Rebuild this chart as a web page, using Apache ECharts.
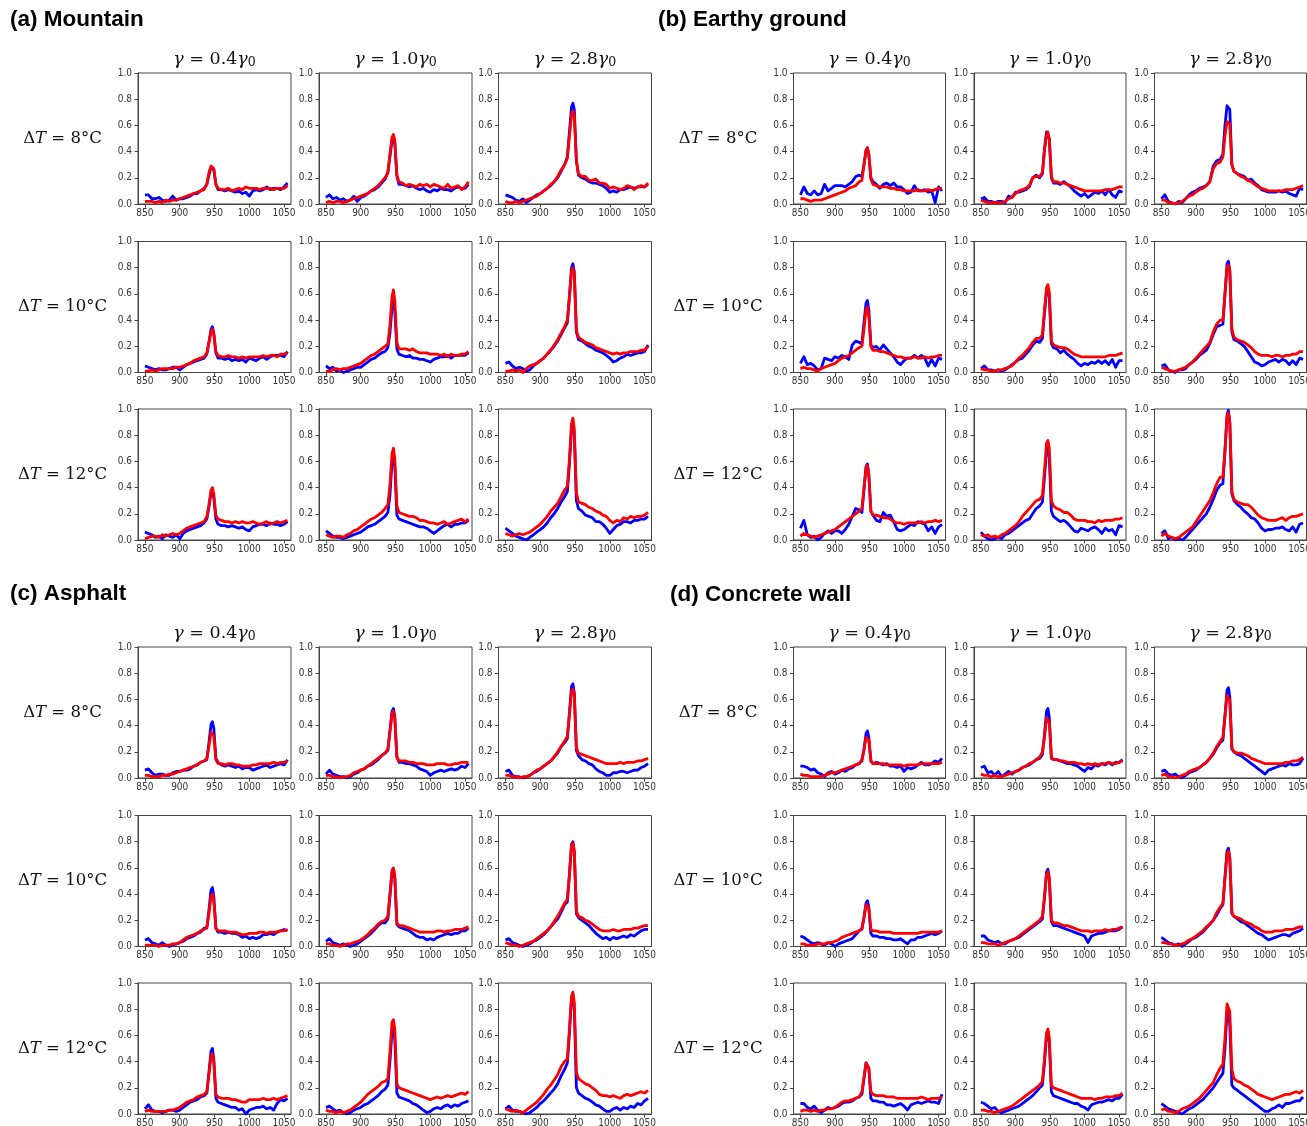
<!DOCTYPE html>
<html>
<head>
<meta charset="utf-8">
<script src="https://cdn.jsdelivr.net/npm/echarts@6/dist/echarts.min.js"></script>
<style>
html,body{margin:0;padding:0;background:#fff;}
#chart{width:1307px;height:1126px;}
</style>
</head>
<body>
<div id="chart"></div>
<script>
// ---------------- DATA ----------------
const wavelengths = [850,855,860,865,870,875,880,885,890,895, 900,905,910,915,920,925,930,935, 939,942,945,947,949,952,955, 960,965,970,975,980,985,990,995,1000,1005, 1010,1015,1020,1025,1030,1035,1040,1045,1050,1055];
const xTickValues = [850, 900, 950, 1000, 1050];
const panelTitles = ['(a) Mountain', '(b) Earthy ground', '(c) Asphalt', '(d) Concrete wall'];
const gammaLabels = ['0.4', '1.0', '2.8'];
const deltaTLabels = ['8', '10', '12'];

// (a) Mountain
const mountain_8_04_blue  = [.07,.07,.04,.04,.05,.03,.02,.03,.06,.03, .04,.04,.05,.06,.08,.08,.10,.12, .15,.22,.28,.29,.26,.15,.11, .11,.10,.11,.10,.09,.10,.08,.09,.06,.10, .11,.10,.11,.13,.11,.12,.12,.11,.13,.16];
const mountain_8_04_red   = [.02,.02,.02,.01,.02,.01,.03,.02,.03,.03, .04,.05,.06,.07,.08,.09,.10,.11, .15,.24,.29,.30,.27,.15,.12, .11,.11,.12,.10,.11,.12,.11,.13,.12,.12, .12,.11,.12,.12,.12,.11,.12,.12,.12,.14];
const mountain_8_10_blue  = [.05,.07,.04,.05,.03,.04,.02,.03,.06,.02, .05,.06,.08,.10,.11,.13,.16,.19, .24,.36,.49,.50,.46,.21,.15, .15,.14,.13,.14,.12,.11,.12,.10,.09,.11, .10,.12,.11,.11,.10,.12,.13,.12,.12,.15];
const mountain_8_10_red   = [.01,.02,.01,.02,.02,.01,.02,.03,.04,.05, .06,.07,.08,.10,.12,.14,.17,.20, .24,.38,.51,.53,.49,.22,.17, .16,.14,.15,.14,.13,.15,.14,.15,.13,.15, .14,.13,.12,.15,.12,.13,.14,.11,.13,.17];
const mountain_8_28_blue  = [.07,.06,.05,.03,.02,.04,.01,.03,.05,.07, .08,.10,.12,.14,.17,.20,.25,.30, .36,.55,.74,.77,.72,.33,.22, .20,.19,.17,.16,.16,.15,.14,.12,.09,.10, .09,.11,.11,.12,.13,.12,.13,.13,.13,.15];
const mountain_8_28_red   = [.02,.01,.01,.02,.01,.02,.03,.04,.05,.06, .08,.10,.12,.15,.17,.21,.26,.30, .35,.52,.68,.71,.67,.33,.23, .21,.21,.18,.18,.19,.16,.16,.15,.12,.13, .12,.11,.12,.14,.13,.11,.13,.14,.13,.16];
const mountain_10_04_blue = [.05,.04,.03,.02,.03,.02,.02,.03,.04,.04, .02,.04,.06,.07,.08,.09,.10,.11, .14,.23,.33,.35,.30,.15,.11, .11,.10,.11,.09,.10,.09,.10,.08,.11,.10, .09,.11,.12,.10,.12,.13,.13,.13,.12,.16];
const mountain_10_04_red  = [.01,.01,.02,.01,.02,.03,.03,.03,.03,.04, .04,.05,.06,.07,.09,.10,.11,.12, .15,.23,.31,.33,.29,.16,.13, .12,.12,.13,.12,.12,.11,.12,.11,.12,.12, .12,.12,.13,.12,.13,.13,.12,.14,.14,.15];
const mountain_10_10_blue = [.05,.03,.04,.01,.02,.00,.01,.02,.03,.04, .04,.06,.08,.10,.11,.13,.15,.16, .19,.30,.50,.55,.47,.18,.14, .13,.12,.13,.11,.11,.10,.10,.09,.08,.10, .11,.12,.12,.13,.11,.13,.13,.13,.13,.15];
const mountain_10_10_red  = [.01,.01,.02,.03,.02,.03,.03,.04,.05,.06, .07,.09,.11,.13,.14,.16,.18,.20, .22,.36,.58,.63,.55,.23,.18, .18,.18,.17,.18,.16,.15,.15,.15,.14,.14, .14,.13,.14,.12,.14,.13,.13,.14,.14,.16];
const mountain_10_28_blue = [.07,.08,.05,.03,.04,.03,.01,.02,.05,.07, .09,.11,.14,.17,.20,.24,.29,.34, .38,.58,.80,.83,.77,.31,.25, .24,.22,.20,.19,.17,.16,.15,.13,.11,.08, .09,.11,.12,.14,.13,.14,.15,.15,.16,.21];
const mountain_10_28_red  = [.01,.01,.02,.01,.02,.00,.03,.05,.06,.07, .09,.11,.14,.17,.21,.25,.30,.35, .40,.58,.77,.80,.75,.32,.27, .25,.23,.22,.21,.19,.18,.17,.16,.15,.14, .15,.14,.15,.15,.16,.16,.16,.17,.17,.20];
const mountain_12_04_blue = [.06,.05,.04,.02,.03,.01,.04,.03,.02,.04, .01,.05,.07,.08,.09,.10,.11,.13, .16,.25,.36,.38,.32,.16,.12, .11,.11,.10,.11,.10,.09,.10,.08,.07,.10, .11,.12,.12,.11,.13,.12,.12,.11,.12,.14];
const mountain_12_04_red  = [.01,.02,.03,.03,.02,.04,.03,.04,.05,.04, .05,.07,.09,.10,.11,.12,.13,.14, .18,.27,.38,.40,.35,.19,.16, .15,.14,.14,.13,.14,.13,.14,.13,.13,.14, .13,.12,.13,.14,.12,.13,.14,.13,.14,.15];
const mountain_12_10_blue = [.07,.05,.03,.02,.02,.01,.02,.03,.04,.05, .06,.08,.10,.11,.12,.14,.16,.18, .21,.34,.60,.65,.56,.19,.16, .15,.14,.13,.12,.11,.10,.10,.09,.07,.05, .07,.09,.11,.12,.10,.12,.12,.13,.13,.15];
const mountain_12_10_red  = [.04,.03,.02,.03,.03,.02,.04,.05,.07,.08, .10,.12,.14,.16,.17,.19,.21,.24, .27,.42,.66,.70,.62,.26,.21, .20,.19,.18,.18,.17,.15,.15,.14,.13,.13, .12,.13,.14,.12,.13,.14,.15,.16,.14,.16];
const mountain_12_28_blue = [.09,.07,.05,.03,.02,.01,.00,.02,.04,.06, .08,.10,.13,.17,.20,.24,.29,.33, .37,.58,.85,.89,.80,.30,.24, .22,.19,.18,.17,.14,.14,.12,.09,.05,.08, .11,.12,.14,.14,.13,.15,.15,.16,.16,.18];
const mountain_12_28_red  = [.05,.04,.03,.04,.05,.04,.05,.06,.08,.10, .12,.15,.18,.22,.25,.28,.33,.38, .41,.62,.89,.93,.85,.36,.29, .28,.27,.25,.24,.22,.21,.19,.18,.15,.13, .15,.14,.17,.16,.18,.17,.18,.18,.19,.21];

// (b) Earthy ground
const earthy_8_04_blue  = [.07,.13,.08,.07,.10,.07,.08,.15,.10,.12, .14,.14,.14,.13,.15,.17,.21,.22, .21,.30,.41,.43,.38,.20,.17, .15,.12,.15,.16,.14,.16,.13,.13,.11,.08, .09,.14,.10,.10,.11,.09,.10,.01,.13,.10];
const earthy_8_04_red   = [.04,.04,.03,.02,.03,.03,.03,.04,.05,.06, .07,.08,.09,.10,.12,.13,.14,.17, .18,.30,.41,.43,.38,.19,.15, .14,.13,.13,.13,.12,.12,.11,.11,.10,.10, .10,.10,.11,.10,.10,.11,.10,.11,.12,.12];
const earthy_8_10_blue  = [.04,.05,.02,.02,.01,.02,.02,.01,.06,.05, .09,.09,.10,.11,.13,.20,.22,.20, .23,.42,.55,.56,.50,.20,.16, .16,.15,.17,.15,.13,.10,.08,.06,.08,.05, .07,.09,.08,.10,.07,.11,.07,.05,.10,.09];
const earthy_8_10_red   = [.03,.02,.01,.01,.01,.01,.01,.02,.04,.05, .08,.10,.11,.12,.14,.20,.21,.21, .24,.41,.53,.55,.49,.21,.17, .17,.16,.16,.15,.14,.13,.12,.11,.10,.10, .10,.10,.10,.10,.11,.11,.11,.12,.13,.13];
const earthy_8_28_blue  = [.04,.07,.02,.01,.00,.02,.01,.04,.07,.09, .10,.12,.13,.14,.17,.29,.33,.34, .38,.60,.75,.76,.72,.30,.25, .23,.22,.21,.18,.19,.16,.14,.11,.10,.09, .09,.09,.10,.09,.10,.08,.07,.06,.12,.11];
const earthy_8_28_red   = [.03,.03,.01,.01,.00,.01,.02,.04,.06,.07, .09,.11,.12,.14,.17,.27,.31,.32, .36,.52,.63,.64,.61,.30,.25, .23,.21,.20,.18,.17,.15,.13,.12,.11,.10, .10,.10,.10,.10,.11,.11,.11,.12,.13,.14];
const earthy_10_04_blue = [.07,.12,.06,.07,.05,.02,.03,.11,.10,.09, .12,.11,.13,.12,.10,.21,.24,.23, .22,.38,.53,.55,.48,.21,.19, .20,.17,.21,.18,.15,.12,.08,.06,.09,.11, .11,.13,.11,.13,.11,.05,.10,.05,.11,.10];
const earthy_10_04_red  = [.03,.04,.03,.03,.02,.01,.03,.04,.05,.06, .07,.09,.11,.12,.13,.15,.17,.19, .20,.33,.48,.50,.43,.20,.17, .17,.16,.16,.15,.14,.13,.12,.12,.11,.11, .11,.12,.11,.11,.12,.11,.12,.12,.13,.13];
const earthy_10_10_blue = [.03,.05,.02,.02,.01,.02,.01,.02,.04,.06, .08,.10,.11,.14,.17,.21,.24,.23, .26,.45,.62,.64,.58,.22,.19, .18,.15,.17,.14,.12,.10,.07,.05,.07,.06, .08,.07,.09,.07,.09,.06,.10,.04,.09,.09];
const earthy_10_10_red  = [.03,.02,.02,.01,.01,.02,.02,.03,.04,.05, .08,.11,.13,.16,.19,.23,.26,.26, .29,.48,.65,.67,.61,.24,.21, .20,.19,.19,.18,.16,.14,.13,.12,.12,.12, .12,.12,.12,.12,.12,.13,.13,.13,.14,.15];
const earthy_10_28_blue = [.05,.06,.02,.01,.00,.02,.02,.03,.06,.08, .10,.13,.15,.17,.22,.29,.35,.36, .37,.60,.83,.85,.78,.31,.25, .24,.22,.20,.16,.12,.08,.07,.05,.06,.08, .09,.10,.08,.10,.09,.06,.09,.06,.11,.10];
const earthy_10_28_red  = [.04,.03,.02,.01,.01,.02,.03,.04,.06,.08, .11,.14,.17,.20,.23,.31,.37,.40, .40,.60,.80,.82,.77,.33,.27, .25,.24,.23,.21,.19,.16,.14,.13,.13,.13, .12,.13,.13,.12,.13,.13,.14,.14,.16,.16];
const earthy_12_04_blue = [.09,.15,.04,.02,.03,.00,.02,.05,.07,.05, .07,.07,.05,.08,.12,.18,.24,.23, .21,.38,.56,.58,.50,.22,.19, .15,.14,.21,.18,.19,.14,.08,.07,.08,.10, .12,.11,.14,.13,.12,.07,.10,.05,.10,.12];
const earthy_12_04_red  = [.03,.05,.04,.03,.02,.03,.04,.05,.06,.07, .08,.10,.12,.14,.16,.18,.20,.22, .24,.40,.55,.57,.50,.22,.19, .19,.18,.17,.17,.16,.14,.13,.13,.12,.13, .13,.13,.13,.14,.13,.14,.14,.15,.14,.15];
const earthy_12_10_blue = [.06,.03,.01,.00,.01,.02,.01,.04,.05,.07, .09,.11,.13,.15,.16,.20,.24,.26, .29,.48,.68,.71,.63,.22,.18, .16,.14,.15,.13,.10,.07,.06,.09,.08,.07, .09,.10,.08,.05,.09,.07,.08,.04,.11,.10];
const earthy_12_10_red  = [.04,.03,.04,.02,.03,.02,.04,.05,.07,.09, .11,.14,.18,.21,.24,.27,.30,.31, .34,.53,.74,.76,.70,.30,.26, .24,.23,.21,.21,.19,.16,.15,.15,.15,.14, .14,.13,.15,.14,.15,.15,.15,.16,.16,.17];
const earthy_12_28_blue = [.05,.07,.01,.02,.00,.01,.00,.02,.05,.08, .11,.14,.17,.20,.25,.31,.38,.42, .43,.68,.96,.99,.90,.35,.30, .27,.25,.22,.20,.17,.16,.13,.09,.07,.08, .08,.09,.09,.10,.08,.07,.10,.06,.12,.13];
const earthy_12_28_red  = [.03,.05,.03,.02,.01,.02,.04,.06,.08,.10, .14,.18,.22,.26,.30,.36,.43,.48, .48,.68,.94,.97,.90,.37,.31, .29,.28,.27,.27,.25,.22,.19,.17,.16,.15, .15,.15,.16,.17,.15,.17,.18,.18,.19,.20];

// (c) Asphalt
const asphalt_8_04_blue  = [.06,.07,.04,.02,.03,.03,.02,.02,.04,.05, .05,.06,.06,.07,.09,.10,.12,.13, .14,.27,.41,.43,.38,.15,.12, .10,.09,.10,.09,.08,.09,.07,.08,.08,.06, .07,.08,.09,.10,.08,.09,.10,.11,.10,.14];
const asphalt_8_04_red   = [.02,.02,.01,.01,.01,.02,.02,.03,.03,.04, .05,.06,.07,.08,.09,.10,.12,.13, .15,.24,.35,.36,.32,.14,.11, .11,.10,.11,.11,.10,.10,.09,.09,.09,.10, .10,.11,.11,.11,.11,.12,.11,.12,.12,.13];
const asphalt_8_10_blue  = [.03,.06,.03,.02,.01,.01,.00,.01,.03,.04, .06,.07,.09,.10,.12,.14,.17,.19, .21,.36,.51,.53,.47,.16,.12, .12,.11,.11,.10,.09,.07,.06,.05,.02,.04, .05,.06,.05,.06,.07,.06,.07,.09,.08,.11];
const asphalt_8_10_red   = [.02,.02,.01,.01,.00,.01,.01,.02,.04,.05, .06,.07,.09,.11,.13,.15,.17,.19, .22,.35,.49,.51,.45,.16,.13, .13,.13,.12,.12,.11,.11,.11,.10,.10,.10, .11,.11,.11,.10,.10,.11,.11,.12,.12,.12];
const asphalt_8_28_blue  = [.05,.06,.02,.01,.01,.00,.01,.02,.04,.05, .07,.09,.11,.13,.16,.19,.24,.27, .30,.50,.70,.72,.65,.21,.17, .14,.13,.11,.10,.07,.05,.04,.02,.02,.04, .04,.05,.05,.04,.05,.06,.06,.08,.09,.11];
const asphalt_8_28_red   = [.02,.02,.01,.01,.00,.01,.01,.02,.04,.06, .07,.09,.11,.13,.16,.20,.24,.28, .32,.48,.66,.68,.63,.23,.19, .18,.17,.16,.15,.14,.13,.12,.11,.11,.11, .11,.12,.11,.12,.12,.12,.13,.13,.14,.15];
const asphalt_10_04_blue = [.05,.06,.03,.02,.01,.03,.01,.00,.01,.02, .03,.04,.06,.07,.08,.10,.11,.14, .14,.28,.43,.45,.38,.14,.11, .11,.10,.11,.10,.10,.09,.07,.08,.06,.07, .06,.07,.09,.09,.10,.09,.11,.12,.13,.12];
const asphalt_10_04_red  = [.01,.01,.01,.01,.00,.01,.01,.01,.02,.02, .03,.05,.07,.08,.09,.10,.12,.13, .15,.25,.38,.40,.35,.14,.12, .12,.12,.11,.11,.11,.10,.09,.09,.10,.10, .10,.11,.11,.10,.11,.11,.11,.12,.12,.13];
const asphalt_10_10_blue = [.04,.06,.03,.02,.01,.02,.01,.00,.01,.02, .04,.06,.08,.10,.13,.16,.18,.18, .21,.38,.57,.59,.52,.17,.15, .14,.13,.12,.10,.08,.07,.07,.05,.06,.05, .07,.08,.09,.10,.09,.10,.10,.12,.12,.14];
const asphalt_10_10_red  = [.02,.02,.01,.01,.00,.01,.02,.02,.03,.04, .05,.07,.09,.12,.14,.17,.19,.20, .23,.40,.58,.60,.54,.18,.16, .16,.15,.14,.13,.12,.11,.11,.11,.11,.11, .12,.12,.11,.12,.12,.13,.13,.13,.14,.15];
const asphalt_10_28_blue = [.05,.06,.03,.02,.01,.00,.01,.02,.04,.05, .07,.09,.12,.15,.18,.21,.26,.32, .34,.55,.78,.80,.72,.25,.22, .20,.18,.16,.13,.10,.08,.06,.07,.05,.07, .06,.07,.08,.07,.09,.08,.10,.12,.13,.13];
const asphalt_10_28_red  = [.03,.02,.01,.01,.00,.01,.02,.03,.04,.06, .08,.10,.12,.15,.19,.23,.28,.33, .36,.55,.77,.79,.73,.27,.23, .22,.20,.19,.17,.15,.13,.12,.12,.12,.13, .12,.12,.13,.13,.13,.14,.14,.15,.16,.16];
const asphalt_12_04_blue = [.04,.07,.03,.02,.02,.01,.02,.03,.03,.02, .03,.05,.07,.09,.10,.11,.13,.14, .16,.32,.48,.50,.42,.12,.09, .08,.07,.06,.05,.05,.03,.04,.00,.03,.04, .05,.05,.06,.04,.05,.03,.08,.11,.10,.12];
const asphalt_12_04_red  = [.02,.03,.02,.02,.02,.02,.02,.03,.03,.04, .05,.07,.09,.10,.11,.13,.14,.15, .17,.30,.44,.46,.40,.15,.13, .12,.12,.12,.11,.11,.10,.09,.09,.11,.11, .11,.11,.12,.11,.11,.12,.11,.12,.13,.14];
const asphalt_12_10_blue = [.05,.06,.04,.02,.03,.01,.00,.01,.03,.04, .05,.07,.08,.10,.12,.14,.17,.19, .22,.40,.63,.66,.57,.16,.13, .12,.11,.10,.08,.07,.05,.03,.01,.02,.04, .05,.04,.06,.07,.05,.07,.06,.08,.09,.10];
const asphalt_12_10_red  = [.03,.02,.02,.01,.02,.01,.02,.03,.05,.07, .09,.12,.15,.17,.19,.21,.24,.25, .27,.47,.70,.72,.65,.23,.20, .19,.18,.17,.16,.15,.14,.13,.12,.11,.12, .13,.12,.13,.14,.13,.14,.15,.16,.15,.17];
const asphalt_12_28_blue = [.04,.06,.03,.02,.02,.01,.00,.01,.03,.05, .08,.10,.13,.16,.19,.23,.29,.34, .39,.62,.88,.91,.80,.20,.16, .14,.12,.11,.09,.07,.06,.04,.02,.02,.04, .05,.03,.05,.04,.06,.05,.08,.07,.10,.12];
const asphalt_12_28_red  = [.04,.03,.02,.03,.02,.01,.03,.05,.07,.09, .12,.15,.19,.22,.26,.30,.36,.40, .42,.65,.90,.93,.85,.32,.27, .25,.23,.22,.20,.18,.15,.14,.14,.13,.14, .13,.12,.14,.15,.14,.15,.16,.17,.16,.18];

// (d) Concrete wall
const concrete_8_04_blue  = [.09,.09,.08,.06,.07,.04,.03,.01,.04,.05, .03,.04,.06,.05,.07,.08,.10,.11, .13,.22,.34,.36,.31,.13,.11, .12,.11,.10,.11,.09,.09,.08,.09,.05,.08, .07,.08,.10,.12,.10,.10,.11,.13,.12,.15];
const concrete_8_04_red   = [.03,.02,.02,.01,.01,.01,.01,.02,.03,.04, .04,.05,.06,.07,.08,.09,.10,.11, .14,.21,.31,.32,.29,.13,.11, .11,.11,.11,.10,.10,.10,.10,.10,.09,.10, .10,.10,.10,.11,.11,.11,.11,.11,.11,.12];
const concrete_8_10_blue  = [.08,.09,.04,.05,.02,.05,.01,.03,.05,.03, .05,.06,.08,.09,.10,.12,.14,.15, .18,.33,.51,.53,.46,.15,.14, .14,.13,.12,.11,.11,.10,.09,.07,.05,.08, .07,.10,.09,.11,.10,.12,.10,.12,.12,.14];
const concrete_8_10_red   = [.03,.02,.02,.01,.02,.01,.01,.02,.03,.04, .05,.06,.08,.09,.11,.12,.14,.16, .20,.31,.46,.47,.42,.16,.14, .14,.13,.13,.12,.12,.12,.11,.11,.10,.11, .10,.11,.10,.11,.11,.12,.11,.11,.12,.13];
const concrete_8_28_blue  = [.05,.06,.03,.02,.03,.01,.00,.02,.04,.05, .06,.08,.10,.12,.15,.18,.23,.27, .29,.48,.67,.69,.62,.22,.20, .18,.17,.15,.13,.11,.09,.07,.05,.03,.06, .07,.08,.09,.10,.09,.11,.10,.10,.11,.15];
const concrete_8_28_red   = [.02,.03,.01,.01,.00,.01,.02,.03,.05,.06, .07,.08,.10,.12,.15,.19,.24,.28, .31,.47,.63,.64,.59,.23,.20, .19,.19,.18,.17,.15,.14,.13,.12,.11,.11, .11,.11,.11,.11,.12,.12,.13,.13,.14,.16];
const concrete_10_04_blue = [.08,.07,.05,.03,.02,.03,.02,.01,.03,.02, .00,.02,.03,.04,.05,.06,.09,.12, .13,.22,.33,.35,.30,.10,.08, .08,.07,.07,.06,.06,.05,.05,.06,.04,.02, .05,.05,.07,.07,.08,.09,.10,.09,.10,.12];
const concrete_10_04_red  = [.02,.02,.01,.01,.01,.02,.02,.02,.03,.03, .04,.05,.07,.08,.09,.10,.11,.12, .14,.22,.32,.33,.29,.13,.12, .12,.11,.11,.11,.11,.10,.10,.10,.10,.10, .10,.10,.10,.11,.11,.11,.11,.11,.11,.12];
const concrete_10_10_blue = [.08,.08,.05,.04,.03,.04,.02,.02,.04,.05, .06,.07,.09,.11,.13,.15,.17,.19, .21,.37,.57,.59,.52,.19,.16, .16,.15,.14,.13,.12,.11,.10,.09,.08,.03, .08,.09,.10,.10,.11,.12,.12,.12,.13,.15];
const concrete_10_10_red  = [.03,.03,.02,.02,.02,.01,.02,.03,.04,.05, .06,.08,.10,.12,.14,.16,.18,.20, .23,.38,.55,.57,.51,.20,.18, .18,.17,.16,.16,.15,.14,.13,.12,.12,.12, .11,.12,.12,.12,.13,.12,.13,.13,.14,.15];
const concrete_10_28_blue = [.07,.05,.03,.02,.01,.02,.00,.02,.04,.06, .07,.09,.11,.14,.17,.20,.24,.29, .32,.53,.73,.75,.68,.25,.23, .21,.19,.18,.16,.14,.12,.10,.09,.07,.05, .06,.07,.08,.09,.09,.08,.10,.11,.12,.14];
const concrete_10_28_red  = [.03,.03,.02,.02,.01,.01,.02,.03,.05,.06, .08,.10,.12,.15,.17,.20,.26,.30, .33,.52,.71,.73,.67,.26,.23, .22,.21,.19,.18,.17,.15,.14,.12,.11,.11, .11,.12,.12,.12,.13,.13,.13,.14,.15,.15];
const concrete_12_04_blue = [.08,.08,.05,.04,.06,.03,.01,.03,.05,.04, .05,.06,.08,.09,.09,.10,.12,.13, .15,.27,.39,.40,.35,.12,.10, .10,.09,.09,.07,.07,.06,.07,.08,.06,.03, .07,.08,.09,.08,.09,.10,.09,.09,.08,.15];
const concrete_12_04_red  = [.02,.03,.03,.02,.03,.02,.03,.03,.04,.04, .05,.07,.09,.10,.10,.11,.12,.13, .17,.28,.39,.40,.35,.17,.15, .14,.14,.14,.13,.13,.13,.12,.12,.12,.12, .12,.12,.12,.13,.12,.11,.12,.12,.12,.13];
const concrete_12_10_blue = [.09,.08,.06,.04,.05,.02,.01,.02,.03,.04, .05,.06,.08,.10,.12,.14,.17,.20, .22,.39,.60,.63,.55,.17,.14, .13,.12,.11,.10,.09,.08,.08,.06,.05,.03, .07,.08,.09,.09,.10,.11,.10,.12,.12,.15];
const concrete_12_10_red  = [.03,.03,.02,.02,.01,.02,.03,.04,.05,.06, .08,.10,.12,.14,.16,.18,.20,.22, .25,.42,.62,.65,.58,.22,.20, .19,.18,.17,.16,.15,.14,.13,.12,.12,.12, .12,.11,.12,.12,.13,.13,.13,.14,.14,.16];
const concrete_12_28_blue = [.08,.06,.04,.03,.02,.01,.00,.02,.04,.05, .07,.09,.11,.14,.17,.20,.24,.28, .31,.50,.77,.80,.68,.22,.20, .18,.16,.14,.12,.10,.08,.06,.04,.02,.02, .04,.05,.07,.05,.08,.08,.09,.10,.10,.13];
const concrete_12_28_red  = [.03,.04,.02,.02,.01,.02,.04,.05,.06,.08, .10,.12,.15,.18,.21,.24,.30,.35, .38,.58,.84,.85,.78,.34,.27, .25,.24,.22,.21,.19,.17,.15,.14,.13,.12, .11,.12,.13,.14,.15,.15,.16,.17,.16,.18];

// ---------------- TABLE (built from arrays above) ----------------
const panelData = [
  [[[mountain_8_04_blue, mountain_8_04_red], [mountain_8_10_blue, mountain_8_10_red], [mountain_8_28_blue, mountain_8_28_red]],
   [[mountain_10_04_blue, mountain_10_04_red], [mountain_10_10_blue, mountain_10_10_red], [mountain_10_28_blue, mountain_10_28_red]],
   [[mountain_12_04_blue, mountain_12_04_red], [mountain_12_10_blue, mountain_12_10_red], [mountain_12_28_blue, mountain_12_28_red]]],
  [[[earthy_8_04_blue, earthy_8_04_red], [earthy_8_10_blue, earthy_8_10_red], [earthy_8_28_blue, earthy_8_28_red]],
   [[earthy_10_04_blue, earthy_10_04_red], [earthy_10_10_blue, earthy_10_10_red], [earthy_10_28_blue, earthy_10_28_red]],
   [[earthy_12_04_blue, earthy_12_04_red], [earthy_12_10_blue, earthy_12_10_red], [earthy_12_28_blue, earthy_12_28_red]]],
  [[[asphalt_8_04_blue, asphalt_8_04_red], [asphalt_8_10_blue, asphalt_8_10_red], [asphalt_8_28_blue, asphalt_8_28_red]],
   [[asphalt_10_04_blue, asphalt_10_04_red], [asphalt_10_10_blue, asphalt_10_10_red], [asphalt_10_28_blue, asphalt_10_28_red]],
   [[asphalt_12_04_blue, asphalt_12_04_red], [asphalt_12_10_blue, asphalt_12_10_red], [asphalt_12_28_blue, asphalt_12_28_red]]],
  [[[concrete_8_04_blue, concrete_8_04_red], [concrete_8_10_blue, concrete_8_10_red], [concrete_8_28_blue, concrete_8_28_red]],
   [[concrete_10_04_blue, concrete_10_04_red], [concrete_10_10_blue, concrete_10_10_red], [concrete_10_28_blue, concrete_10_28_red]],
   [[concrete_12_04_blue, concrete_12_04_red], [concrete_12_10_blue, concrete_12_10_red], [concrete_12_28_blue, concrete_12_28_red]]]
];

// ---------------- LAYOUT ----------------
const colLefts = [[138, 319, 498.5], [793.5, 974, 1154.5]];
const colWidths = [153, 152];
const rowTops = [[73, 241.5, 409], [647, 815.5, 983]];
const plotH = 131;
const titlePos = [[10, 20], [658, 20], [10, 594], [670, 595]];

const grids = [], xAxes = [], yAxes = [], series = [], graphics = [];
const axisColor = '#444';
const labelFont = '"DejaVu Sans Condensed", "DejaVu Sans", sans-serif';
const serif = '"DejaVu Serif", "Liberation Serif", serif';
const colRich = {
  i: {fontFamily: serif, fontStyle: 'italic', fontSize: 17.5, fill: '#111'},
  n: {fontFamily: serif, fontSize: 17.5, fill: '#111'},
  s: {fontFamily: serif, fontSize: 12.5, fill: '#111', verticalAlign: 'bottom', padding: [8, 0, 0, 0]}
};
const rowRich = {
  i: {fontFamily: serif, fontStyle: 'italic', fontSize: 16.5, fill: '#111'},
  n: {fontFamily: serif, fontSize: 16.5, fill: '#111'}
};

for (let p = 0; p < 4; p++) {
  const cs = p % 2, rs = Math.floor(p / 2);
  graphics.push({
    type: 'text', x: titlePos[p][0], y: titlePos[p][1],
    style: {text: panelTitles[p], font: 'bold 22.5px "Liberation Sans", Arial, sans-serif', fill: '#000', align: 'left', verticalAlign: 'middle'}
  });
  for (let c = 0; c < 3; c++) {
    graphics.push({
      type: 'text', x: colLefts[cs][c] + colWidths[cs] / 2, y: rowTops[rs][0] - 14,
      style: {text: '{i|γ}{n| = ' + gammaLabels[c] + '}{i|γ}{s|0}', rich: colRich, align: 'center', verticalAlign: 'middle'}
    });
  }
  for (let r = 0; r < 3; r++) {
    graphics.push({
      type: 'text', x: colLefts[cs][0] - 75.5, y: rowTops[rs][r] + plotH / 2,
      style: {text: '{n|Δ}{i|T}{n| = ' + deltaTLabels[r] + '°C}', rich: rowRich, align: 'center', verticalAlign: 'middle'}
    });
    for (let c = 0; c < 3; c++) {
      const gi = grids.length;
      grids.push({
        left: colLefts[cs][c], top: rowTops[rs][r], width: colWidths[cs], height: plotH,
        show: true, borderColor: axisColor, borderWidth: 1, backgroundColor: 'transparent',
        containLabel: false, outerBoundsMode: 'none'
      });
      xAxes.push({
        gridIndex: gi, type: 'value', min: 840, max: 1060,
        splitLine: {show: false},
        axisLine: {show: true, onZero: false, lineStyle: {color: axisColor, width: 1}},
        axisTick: {show: true, length: 3.5, lineStyle: {color: axisColor}, customValues: xTickValues},
        axisLabel: {show: true, customValues: xTickValues, fontSize: 10, fontFamily: labelFont, color: '#333', margin: 4,
          formatter: v => String(v)}
      });
      yAxes.push({
        gridIndex: gi, type: 'value', min: 0, max: 1, interval: 0.2,
        splitLine: {show: false},
        axisLine: {show: true, lineStyle: {color: axisColor, width: 1}},
        axisTick: {show: true, length: 3.5, lineStyle: {color: axisColor}},
        axisLabel: {show: true, fontSize: 10, fontFamily: labelFont, color: '#333', margin: 6,
          formatter: v => v.toFixed(1)}
      });
      const pair = panelData[p][r][c];
      ['#0000ff', '#ff0000'].forEach((col, k) => {
        series.push({
          type: 'line', xAxisIndex: gi, yAxisIndex: gi,
          data: wavelengths.map((w, i) => [w, pair[k][i]]),
          showSymbol: false, symbol: 'none', smooth: false,
          lineStyle: {color: col, width: 2.8, join: 'round'}, itemStyle: {color: col},
          z: 2 + k, silent: true
        });
      });
    }
  }
}

const chart = echarts.init(document.getElementById('chart'), null, {renderer: 'canvas'});
chart.setOption({
  animation: false,
  backgroundColor: '#fff',
  grid: grids, xAxis: xAxes, yAxis: yAxes, series: series,
  graphic: {elements: graphics}
});
</script>
</body>
</html>
